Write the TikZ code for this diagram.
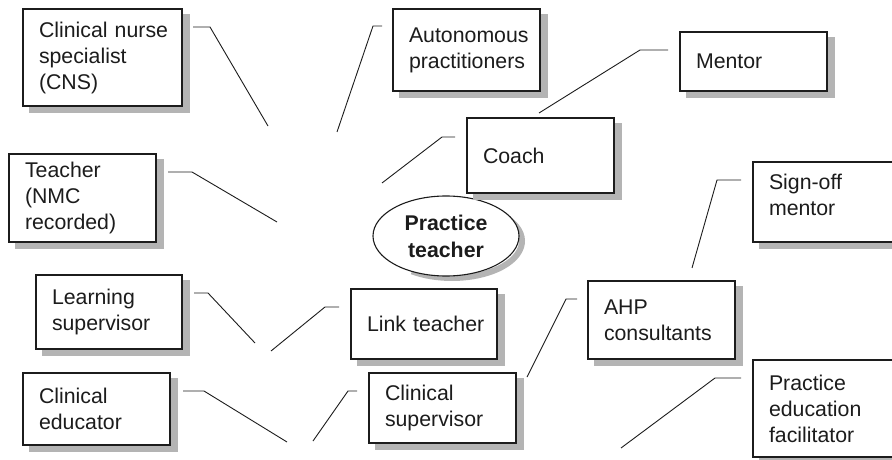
\documentclass[tikz,border=0pt]{standalone}
\usepackage{fontspec}
\setmainfont{Liberation Sans}
\usetikzlibrary{shapes.geometric}
\definecolor{ink}{RGB}{28,28,28}
\definecolor{shadowgray}{RGB}{180,180,180}
\tikzset{
  rolebox/.style={draw=ink, line width=1.3pt, fill=white, inner xsep=16pt, inner ysep=0pt,
    align=left, font=\fontsize{21.3}{26}\selectfont, text=ink},
  centre/.style={ellipse, draw=ink, line width=1.1pt, fill=white, inner sep=0pt,
    align=center, font=\bfseries\fontsize{21.3}{27}\selectfont, text=ink,
    minimum width=146pt, minimum height=80pt},
  link/.style={draw=ink, line width=0.9pt},
  sidestrip/.style={draw=shadowgray, line width=6.4pt, line cap=butt},
  footstrip/.style={draw=shadowgray, line width=5.4pt, line cap=butt},
  ovalshadow/.style={draw=shadowgray, line width=6pt, line cap=butt}
}
\begin{document}
\begin{tikzpicture}[x=1pt,y=-1pt]
\useasboundingbox (0,0) rectangle (892,460);
% shadow of the oval, beneath it
\draw[ovalshadow] (452,241) ++(-35:70 and 37) arc[start angle=-35, end angle=125, x radius=70, y radius=37];
% boxes: centre, width, height
\node[rolebox, minimum width=159pt, minimum height=97pt, text width=127pt] (cns) at (102.5,57.5) {Clinical~nurse\\specialist\\(CNS)};
\node[rolebox, minimum width=147pt, minimum height=82pt, text width=115pt] (auto) at (466.5,50) {Autonomous\\practitioners};
\node[rolebox, minimum width=147pt, minimum height=88pt, text width=115pt] (teach) at (82.5,198) {Teacher\\(NMC\\recorded)};
\node[rolebox, minimum width=147pt, minimum height=75pt, text width=115pt] (coach) at (540.5,155.5) {Coach};
\node[rolebox, minimum width=147pt, minimum height=59pt, text width=115pt] (mentor) at (753.5,61.5) {Mentor};
\node[rolebox, minimum width=147pt, minimum height=80pt, text width=115pt] (signoff) at (826.5,202) {Sign-off\\mentor\\[-12pt]\mbox{}};
\node[rolebox, minimum width=146pt, minimum height=74pt, text width=114pt] (learn) at (109,312) {Learning\\supervisor};
\node[rolebox, minimum width=146pt, minimum height=70pt, text width=114pt] (linkt) at (424,324) {Link~teacher};
\node[rolebox, minimum width=147pt, minimum height=72pt, text width=115pt] (cedu) at (96.5,409) {Clinical\\educator};
\node[rolebox, minimum width=147pt, minimum height=70pt, text width=115pt] (csup) at (442.5,408) {Clinical\\supervisor};
\node[rolebox, minimum width=147pt, minimum height=78pt, text width=115pt] (ahp) at (661.5,320) {AHP\\consultants};
\node[rolebox, minimum width=147pt, minimum height=97pt, text width=115pt] (pef) at (826.5,408.5) {Practice\\education\\facilitator};
\node[centre] (pt) at (446,236) {Practice\\teacher};
% box shadows: strips along the right and bottom sides
\foreach \n in {cns,auto,teach,coach,mentor,signoff,learn,linkt,cedu,csup,ahp,pef} {
  \draw[sidestrip] ([xshift=3.85pt,yshift=-6pt]\n.north east) -- ([xshift=3.85pt,yshift=-6pt]\n.south east);
  \draw[footstrip] ([xshift=7pt,yshift=-3.35pt]\n.south west) -- ([xshift=7pt,yshift=-3.35pt]\n.south east);
}
% connector points
\coordinate (a1) at (193,27);  \coordinate (b1) at (210,27);  \coordinate (c1) at (268,126);
\coordinate (a2) at (382,26);  \coordinate (b2) at (373,26);  \coordinate (c2) at (337,132);
\coordinate (a3) at (168,172); \coordinate (b3) at (192,172); \coordinate (c3) at (277,222);
\coordinate (a4) at (455,137); \coordinate (b4) at (442,137); \coordinate (c4) at (382,183);
\coordinate (a5) at (668,50);  \coordinate (b5) at (640,50);  \coordinate (c5) at (539,113);
\coordinate (a6) at (741,180); \coordinate (b6) at (717,180); \coordinate (c6) at (692,268);
\coordinate (a7) at (194,293); \coordinate (b7) at (208,293); \coordinate (c7) at (255,343);
\coordinate (a8) at (339,307); \coordinate (b8) at (325,307); \coordinate (c8) at (271,351);
\coordinate (a9) at (183,391); \coordinate (b9) at (204,391); \coordinate (c9) at (287,442);
\coordinate (a10) at (357,391); \coordinate (b10) at (348,391); \coordinate (c10) at (313,441);
\coordinate (a11) at (577,299); \coordinate (b11) at (566,299); \coordinate (c11) at (527,377);
\coordinate (a12) at (741,378); \coordinate (b12) at (715,378); \coordinate (c12) at (621,448);
\foreach \i in {1,...,12} { \draw[link] (a\i) -- (b\i) -- (c\i); }
\end{tikzpicture}
\end{document}
